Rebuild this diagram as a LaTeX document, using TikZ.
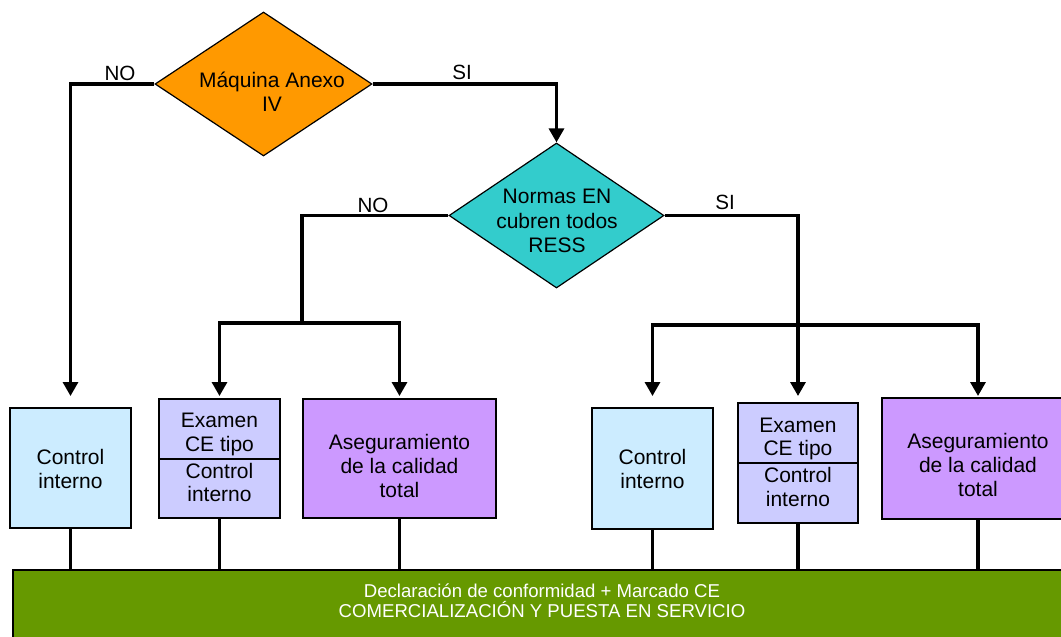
\documentclass[tikz,border=0pt]{standalone}
\usepackage{fontspec}
\setmainfont{Liberation Sans}
\usetikzlibrary{shapes.geometric,arrows.meta,calc}
\definecolor{cOrange}{HTML}{FF9900}
\definecolor{cCyan}{HTML}{33CCCC}
\definecolor{cLightBlue}{HTML}{CCECFF}
\definecolor{cLavender}{HTML}{CCCCFF}
\definecolor{cViolet}{HTML}{CC99FF}
\definecolor{cGreen}{HTML}{669900}
\begin{document}
\begin{tikzpicture}[x=0.5pt,y=-0.5pt,
  conn/.style={line width=1.6pt},
  arr/.style={conn,-{Triangle[width=7.5pt,length=7pt]}},
  dec/.style={diamond,draw=black,line width=0.6pt,inner sep=0pt},
  box/.style={rectangle,draw=black,line width=1pt,inner sep=0pt},
  txt/.style={font=\fontsize{10.5}{11.8}\selectfont,align=center,inner sep=0pt},
  lbl/.style={font=\fontsize{10.3}{11}\selectfont,inner sep=0pt}]
\useasboundingbox (0,0) rectangle (1061,637);
\clip (0,0) rectangle (1061,637);
\fill[white] (0,0) rectangle (1061,637);
\coordinate (lvl) at (0,396);
% diamonds
\node[dec,fill=cOrange,minimum width=108.5pt,minimum height=72pt] (d1) at (263.5,84) {};
\node[txt] (t1) at (272,91.5) {Máquina Anexo\\IV};
\node[dec,fill=cCyan,minimum width=107.5pt,minimum height=72.5pt] (d2) at (556.5,215.5) {};
\node[txt,font=\fontsize{10.5}{12.4}\selectfont] (t2) at (557,221) {Normas EN\\cubren todos\\RESS};
% labels
\node[lbl] (no1) at (120,73) {NO};
\node[lbl] (si1) at (462,72) {SI};
\node[lbl] (no2) at (373,205) {NO};
\node[lbl] (si2) at (725,202) {SI};
% boxes
\node[box,fill=cLightBlue,minimum width=60.5pt,minimum height=60pt] (ci1) at (70.5,468) {};
\node[txt] (ci1t) at (70.5,469) {Control\\interno};
\node[box,fill=cLavender,minimum width=60.5pt,minimum height=59.5pt] (ex1) at (219.5,458.5) {};
\draw[line width=1pt] (ex1.west) -- (ex1.east);
\node[txt] (ex1a) at (219.5,434.5) {Examen\\CE tipo};
\node[txt] (ex1b) at (219.5,482.5) {Control\\interno};
\node[box,fill=cViolet,minimum width=96.5pt,minimum height=59.5pt] (as1) at (399.5,458.5) {};
\node[txt] (as1t) at (399.5,466) {Aseguramiento\\de la calidad\\total};
\node[box,fill=cLightBlue,minimum width=60.5pt,minimum height=60.5pt] (ci2) at (652.5,468.5) {};
\node[txt] (ci2t) at (652.5,469) {Control\\interno};
\node[box,fill=cLavender,minimum width=60pt,minimum height=60pt] (ex2) at (798,463) {};
\draw[line width=1pt] (ex2.west) -- (ex2.east);
\node[txt] (ex2a) at (798,439) {Examen\\CE tipo};
\node[txt] (ex2b) at (798,487) {Control\\interno};
\node[box,fill=cViolet,minimum width=96pt,minimum height=60.5pt] (as2) at (978,458.5) {};
\node[txt] (as2t) at (978,465) {Aseguramiento\\de la calidad\\total};
% bar
\node[box,fill=cGreen,minimum width=534pt,minimum height=45.5pt,anchor=north west] (bar) at (12,569) {};
\node[txt,text=white,font=\fontsize{9.3}{9.8}\selectfont] (bart) at (542,601) {Declaración de conformidad + Marcado CE\\COMERCIALIZACIÓN Y PUESTA EN SERVICIO};
% junctions
\coordinate (j1) at (302,323);
\coordinate (j2) at (798,325);
% connectors
\draw[arr] (d1.west) -| (ci1.north |- lvl);
\draw[arr] (d1.east) -| (d2.north);
\draw[conn] (d2.west) -| (j1);
\draw[arr] (j1) -| (ex1.north |- lvl);
\draw[arr] (j1) -| (as1.north |- lvl);
\draw[arr] (d2.east) -| (ex2.north |- lvl);
\draw[arr] (j2) -| (ci2.north |- lvl);
\draw[arr] (j2) -| (as2.north |- lvl);
% stems
\foreach \b in {ci1,ex1,as1,ci2,ex2,as2}
  \draw[conn] (\b.south) -- (\b.south |- bar.north);
\end{tikzpicture}
\end{document}
